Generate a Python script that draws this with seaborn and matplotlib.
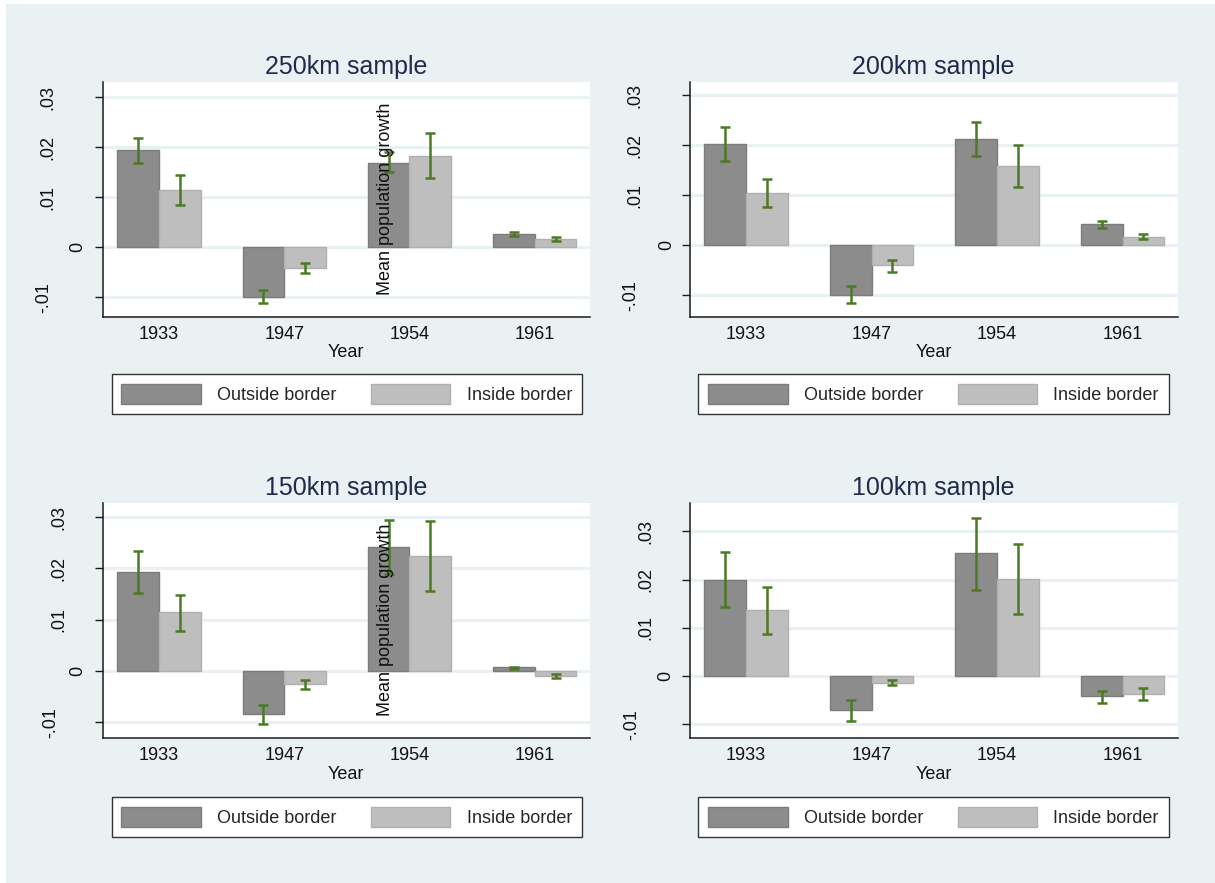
import numpy as np
import pandas as pd
import seaborn as sns
import matplotlib.pyplot as plt
from matplotlib.patches import Patch, Rectangle
from matplotlib.transforms import blended_transform_factory, offset_copy

years = ["1933", "1947", "1954", "1961"]
groups = ["Outside border", "Inside border"]
titles = ["250km sample", "200km sample", "150km sample", "100km sample"]

# means, ci as (low, high) ends of the error bars
out_250 = [0.0195, -0.0099, 0.0169, 0.0027]
out_250_ci = [(0.0169, 0.0219), (-0.0111, -0.0086), (0.0150, 0.0190), (0.0023, 0.0030)]
in_250 = [0.0115, -0.0041, 0.0183, 0.0017]
in_250_ci = [(0.0085, 0.0144), (-0.0052, -0.0031), (0.0139, 0.0228), (0.0013, 0.0021)]

out_200 = [0.0203, -0.0099, 0.0213, 0.0042]
out_200_ci = [(0.0169, 0.0237), (-0.0115, -0.0082), (0.0178, 0.0247), (0.0034, 0.0048)]
in_200 = [0.0105, -0.0040, 0.0159, 0.0017]
in_200_ci = [(0.0077, 0.0133), (-0.0053, -0.0030), (0.0117, 0.0200), (0.0012, 0.0022)]

out_150 = [0.0193, -0.0084, 0.0242, 0.0007]
out_150_ci = [(0.0153, 0.0235), (-0.0103, -0.0066), (0.0190, 0.0294), (0.0005, 0.0008)]
in_150 = [0.0115, -0.0025, 0.0225, -0.0010]
in_150_ci = [(0.0079, 0.0149), (-0.0034, -0.0017), (0.0156, 0.0292), (-0.0013, -0.0005)]

out_100 = [0.0200, -0.0071, 0.0254, -0.0042]
out_100_ci = [(0.0144, 0.0257), (-0.0093, -0.0050), (0.0178, 0.0328), (-0.0055, -0.0030)]
in_100 = [0.0136, -0.0014, 0.0202, -0.0037]
in_100_ci = [(0.0087, 0.0184), (-0.0019, -0.0008), (0.0128, 0.0274), (-0.0050, -0.0024)]

yticks = [-0.01, 0, 0.01, 0.02, 0.03]
ytick_labels = ["-.01", "0", ".01", ".02", ".03"]

BG = "#EAF1F3"
FACES = ["#8C8C8C", "#BEBEBE"]
EDGES = ["#7C7C7C", "#B0B0B0"]
GREEN = "#4B7A24"
INK = "#111111"

W, H = 1215, 883
sns.set_style("ticks")
plt.rcParams["font.family"] = ["Liberation Sans", "DejaVu Sans"]

fig = plt.figure(figsize=(W / 100, H / 100), dpi=100, facecolor="white")
fig.patches.append(Rectangle((6 / W, 0), 1, 1 - 4 / H, transform=fig.transFigure,
                             facecolor=BG, edgecolor="none", zorder=-1))

# axes boxes in pixels: left, top, width, height
boxes = [(102.7, 81.7, 487.1, 235), (689.5, 81.7, 488.3, 235),
         (102.7, 503.3, 487.1, 235), (689.5, 503.3, 488.3, 235)]
ylims = [(-0.0139, 0.0331), (-0.0143, 0.0327), (-0.0131, 0.0327), (-0.0129, 0.0358)]
# pixel offsets of the rotated y labels (".0x", "0", "-.01")
label_offsets = [(54.7, 24.9, 59.0), (54.5, 23.0, 58.5), (43.6, 24.6, 52.0), (43.8, 23.5, 57.6)]
legend_centers = [(346.7, 394), (933.5, 394), (346.7, 817), (933.5, 817)]

panels = [(out_250, out_250_ci, in_250, in_250_ci),
          (out_200, out_200_ci, in_200, in_200_ci),
          (out_150, out_150_ci, in_150, in_150_ci),
          (out_100, out_100_ci, in_100, in_100_ci)]

for i, (om, oci, im, ici) in enumerate(panels):
    l, t, w, h = boxes[i]
    ax = fig.add_axes([l / W, 1 - (t + h) / H, w / W, h / H])
    df = pd.DataFrame({
        "year": years * 2,
        "value": om + im,
        "group": [groups[0]] * 4 + [groups[1]] * 4,
    })
    sns.barplot(data=df, x="year", y="value", hue="group", order=years,
                hue_order=groups, palette=FACES, width=0.667, errorbar=None,
                saturation=1, legend=False, ax=ax)

    for k, (cont, means, ci) in enumerate(zip(ax.containers, [om, im], [oci, ici])):
        for bar in cont:
            bar.set_edgecolor(EDGES[k])
            bar.set_linewidth(1)
        xs = [b.get_x() + b.get_width() / 2 for b in cont]
        m = np.array(means)
        lo = np.array([c[0] for c in ci])
        hi = np.array([c[1] for c in ci])
        ax.errorbar(xs, m, yerr=[m - lo, hi - m], fmt="none", ecolor=GREEN,
                    elinewidth=1.8, capsize=3.4, capthick=1.8, zorder=3)

    ax.set_xlim(-0.45, 3.44)
    ax.set_ylim(*ylims[i])
    ax.set_axisbelow(True)
    ax.yaxis.grid(True, color=BG, linewidth=2.2)
    ax.set_yticks(yticks)
    ax.tick_params(axis="y", length=6, width=1, color="#1a1a1a", labelleft=False)
    ax.tick_params(axis="x", length=0, pad=6.5, labelsize=13, labelcolor=INK)
    for sp in ["top", "right"]:
        ax.spines[sp].set_visible(False)
    for sp in ["left", "bottom"]:
        ax.spines[sp].set_color("#1a1a1a")
        ax.spines[sp].set_linewidth(1.1)
    ax.set_ylabel("")
    ax.set_xlabel("Year", fontsize=13, color=INK, labelpad=1)
    ax.set_title(titles[i], fontsize=18, color="#1F2B4D", pad=5.8)

    trans = blended_transform_factory(ax.transAxes, ax.transData)
    for val, lab in zip(yticks, ytick_labels):
        off = label_offsets[i][0 if lab.startswith(".") else (1 if lab == "0" else 2)]
        tr = offset_copy(trans, fig=fig, x=-off * 0.72, y=0, units="points")
        ax.text(0, val, lab, transform=tr, rotation=90, ha="center", va="center",
                fontsize=13, color=INK, clip_on=False)

    handles = [Patch(facecolor=FACES[k], edgecolor=EDGES[k], label=groups[k]) for k in range(2)]
    cx, cy = legend_centers[i]
    fig.legend(handles=handles, loc="center", bbox_to_anchor=(cx / W, 1 - cy / H),
               ncol=2, fontsize=13, frameon=True, fancybox=False, framealpha=1,
               edgecolor="#333333", handlelength=4.4, handleheight=1.28,
               handletextpad=0.9, columnspacing=1.9, borderpad=0.55)

for py in [199, 620]:
    fig.text(385 / W, 1 - py / H, "Mean population growth", rotation=90,
             ha="center", va="center", fontsize=13, color=INK, zorder=5)

fig.savefig("out.png", dpi=100, facecolor="white")
